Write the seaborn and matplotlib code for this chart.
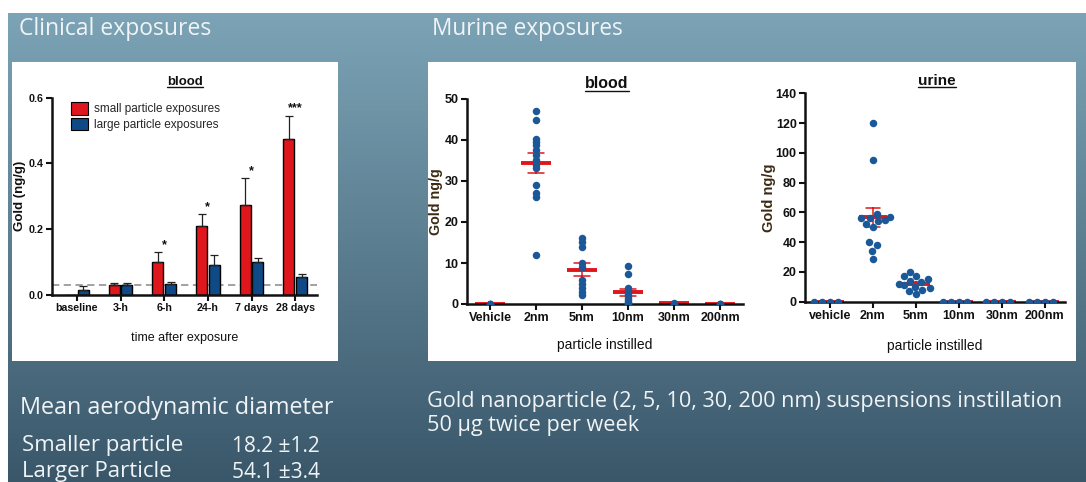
import numpy as np
import pandas as pd
import matplotlib
matplotlib.use("Agg")
import matplotlib.pyplot as plt
import seaborn as sns
from matplotlib.patches import Rectangle, Patch
from matplotlib.lines import Line2D

# ---------------- data ----------------
time_points = ["baseline", "3-h", "6-h", "24-h", "7 days", "28 days"]
small_mean = [0.0, 0.030, 0.100, 0.210, 0.275, 0.475]
small_sem = [0.0, 0.008, 0.030, 0.035, 0.080, 0.070]
large_mean = [0.015, 0.030, 0.033, 0.090, 0.100, 0.055]
large_sem = [0.012, 0.008, 0.007, 0.033, 0.013, 0.010]
sig_marks = ["", "", "*", "*", "*", "***"]
detection_limit = 0.03
exposure_labels = ["small particle exposures", "large particle exposures"]

blood_groups = ["Vehicle", "2nm", "5nm", "10nm", "30nm", "200nm"]
blood_vehicle = [0.0, 0.0, 0.1]
blood_2nm = [47.1, 44.9, 40.2, 39.6, 38.8, 37.6, 36.3, 35.1, 33.9, 33.2, 29.0, 27.1, 26.2, 12.0]
blood_5nm = [16.0, 15.2, 14.0, 9.9, 9.1, 5.9, 5.0, 3.8, 3.0, 2.2]
blood_10nm = [9.2, 7.4, 3.8, 3.2, 2.5, 2.0, 1.5, 1.0, 0.5, 0.3, 0.1]
blood_30nm = [0.3, 0.1, 0.0]
blood_200nm = [0.0, 0.0, 0.1]

urine_groups = ["vehicle", "2nm", "5nm", "10nm", "30nm", "200nm"]
urine_vehicle = [0.0, 0.0, 0.0, 0.0]
urine_2nm = [120, 95, 59, 57, 56, 56, 55, 54, 52, 50, 40, 38, 34, 29]
urine_5nm = [20, 17, 17, 15, 14, 13, 12, 11, 10, 9, 8, 7, 5]
urine_10nm = [0.0, 0.0, 0.0, 0.0]
urine_30nm = [0.0, 0.0, 0.0, 0.0]
urine_200nm = [0.0, 0.0, 0.0, 0.0]

# ---------------- style ----------------
sns.set_theme(style="ticks")
plt.rcParams["font.family"] = ["Liberation Sans", "DejaVu Sans"]
RED = "#e0161d"
NAVY = "#0f4a87"
DOT = "#1b5898"
SLIDE_FONT = ["Open Sans", "DejaVu Sans"]
TXT = "#f0f4f6"

W, H = 1086, 482
fig = plt.figure(figsize=(W / 100, H / 100), dpi=100)

# background axes in pixel coordinates
bg = fig.add_axes([0, 0, 1, 1])
bg.set_xlim(0, W)
bg.set_ylim(H, 0)
bg.axis("off")
top_c = np.array([0x7c, 0xa4, 0xb6]) / 255
bot_c = np.array([0x3a, 0x57, 0x6a]) / 255
t = np.linspace(0, 1, 256)[:, None, None]
grad = top_c[None, None, :] * (1 - t) + bot_c[None, None, :] * t
bg.imshow(grad, extent=(8, W, H, 13), aspect="auto", zorder=0)
bg.add_patch(Rectangle((12, 62), 326, 299, facecolor="white", edgecolor="none", zorder=1))
bg.add_patch(Rectangle((428, 62), 648, 299, facecolor="white", edgecolor="none", zorder=1))

bg.text(19, 29, "Clinical exposures", color=TXT, fontsize=16.5, family=SLIDE_FONT, va="center", ha="left")
bg.text(432, 29, "Murine exposures", color=TXT, fontsize=16.3, family=SLIDE_FONT, va="center", ha="left")
bg.text(20, 408, "Mean aerodynamic diameter", color=TXT, fontsize=16.8, family=SLIDE_FONT, va="center")
bg.text(22, 446, "Smaller particle", color=TXT, fontsize=16, family=SLIDE_FONT, va="center")
bg.text(232, 446, "18.2 \u00b11.2", color=TXT, fontsize=15, family=SLIDE_FONT, va="center")
bg.text(22, 472, "Larger Particle", color=TXT, fontsize=16, family=SLIDE_FONT, va="center")
bg.text(232, 472, "54.1 \u00b13.4", color=TXT, fontsize=15, family=SLIDE_FONT, va="center")
bg.text(427, 401, "Gold nanoparticle (2, 5, 10, 30, 200 nm) suspensions instillation",
        color=TXT, fontsize=15.6, family=SLIDE_FONT, va="center")
bg.text(427, 426, "50 \u00b5g twice per week", color=TXT, fontsize=15.6, family=SLIDE_FONT, va="center")


def px_axes(x0, x1, y_top, y_bot):
    return fig.add_axes([x0 / W, 1 - y_bot / H, (x1 - x0) / W, (y_bot - y_top) / H])


def style_axes(ax, fs=7.5):
    sns.despine(ax=ax)
    for s in ("left", "bottom"):
        ax.spines[s].set_linewidth(1.8)
        ax.spines[s].set_color("#111111")
    ax.tick_params(axis="both", length=4, width=1.5, color="#111111", labelsize=fs,
                   pad=2, labelcolor="#111111")
    for lab in ax.get_xticklabels() + ax.get_yticklabels():
        lab.set_fontweight("bold")
    ax.set_facecolor("none")


underline_titles = []

# ---------------- clinical bar chart ----------------
ax1 = px_axes(52, 317, 97.7, 295)
df_clin = pd.DataFrame({
    "time": time_points * 2,
    "exposure": [exposure_labels[0]] * len(time_points) + [exposure_labels[1]] * len(time_points),
    "gold": small_mean + large_mean,
})
sns.barplot(data=df_clin, x="time", y="gold", hue="exposure", order=time_points,
            hue_order=exposure_labels, palette=[RED, NAVY], saturation=1, width=0.58, gap=0.12,
            edgecolor="black", linewidth=1.0, errorbar=None, legend=False, ax=ax1)
for cont, sems in zip(ax1.containers, [small_sem, large_sem]):
    xs, ys, es = [], [], []
    for bar, e in zip(cont, sems):
        if e > 0:
            xs.append(bar.get_x() + bar.get_width() / 2)
            ys.append(bar.get_height())
            es.append(e)
    ax1.errorbar(xs, ys, yerr=[np.zeros(len(es)), es], fmt="none", ecolor="#222222",
                 elinewidth=0.9, capsize=3, capthick=0.9, zorder=3)
ax1.axhline(detection_limit, color="#9a9a9a", linestyle=(0, (4, 2.5)), linewidth=1.3, zorder=0.5)
for i, (m, s, mark) in enumerate(zip(small_mean, small_sem, sig_marks)):
    if mark:
        ax1.text(i, m + s + 0.022, mark, ha="center", va="center", fontsize=9, fontweight="bold",
                 color="#111111")
ax1.set_xlim(-0.57, 5.5)
ax1.set_ylim(0, 0.6)
ax1.set_yticks([0.0, 0.2, 0.4, 0.6])
ax1.set_yticklabels(["0.0", "0.2", "0.4", "0.6"])
ax1.set_xlabel("time after exposure", fontsize=9, color="#111111")
ax1.set_ylabel("Gold (ng/g)", fontsize=9.5, fontweight="bold", color="#111111")
ax1.xaxis.set_label_coords(0.5, -0.185)
ax1.yaxis.set_label_coords(-0.097, 0.5)
style_axes(ax1, fs=7.7)
ax1.legend(handles=[Patch(facecolor=RED, edgecolor="black", linewidth=0.8),
                    Patch(facecolor=NAVY, edgecolor="black", linewidth=0.8)],
           labels=exposure_labels, loc="upper left", bbox_to_anchor=(0.03, 1.03), frameon=False,
           fontsize=8.5, handlelength=1.5, handleheight=1.2, handletextpad=0.5, labelspacing=0.2)
t1 = fig.text(185 / W, 1 - 82 / H, "blood", ha="center", va="center", fontsize=9.5, fontweight="bold",
              color="#111111")
underline_titles.append(t1)

# ---------------- murine blood ----------------
ax2 = px_axes(467, 743, 99, 304)
blood_vals = [blood_vehicle, blood_2nm, blood_5nm, blood_10nm, blood_30nm, blood_200nm]
df_blood = pd.DataFrame({
    "group": [g for g, v in zip(blood_groups, blood_vals) for _ in v],
    "gold": [x for v in blood_vals for x in v],
})
sns.stripplot(data=df_blood, x="group", y="gold", order=blood_groups, jitter=False, color=DOT,
              size=5.4, linewidth=0, ax=ax2)
sns.pointplot(data=df_blood, x="group", y="gold", order=blood_groups, errorbar="se",
              markers="_", linestyle="none", color=RED, capsize=0.36, markersize=22,
              markeredgewidth=2.8, err_kws={"linewidth": 1.1}, ax=ax2)
ax2.set_xlim(-0.5, 5.5)
ax2.set_ylim(0, 50)
ax2.set_yticks([0, 10, 20, 30, 40, 50])
ax2.set_xlabel("particle instilled", fontsize=10, color="#111111")
ax2.set_ylabel("Gold ng/g", fontsize=10.3, fontweight="bold", color="#3b2a14")
ax2.xaxis.set_label_coords(0.5, -0.165)
ax2.yaxis.set_label_coords(-0.088, 0.5)
style_axes(ax2, fs=9)
t2 = fig.text(607 / W, 1 - 84 / H, "blood", ha="center", va="center", fontsize=11.5, fontweight="bold",
              color="#111111")
underline_titles.append(t2)

# ---------------- murine urine ----------------
ax3 = px_axes(805, 1065, 93.3, 301.7)
urine_vals = [urine_vehicle, urine_2nm, urine_5nm, urine_10nm, urine_30nm, urine_200nm]
df_urine = pd.DataFrame({
    "group": [g for g, v in zip(urine_groups, urine_vals) for _ in v],
    "gold": [float(x) for v in urine_vals for x in v],
})
sns.swarmplot(data=df_urine, x="group", y="gold", order=urine_groups, color=DOT, size=5.4,
              linewidth=0, ax=ax3, warn_thresh=1)
sns.pointplot(data=df_urine, x="group", y="gold", order=urine_groups, errorbar="se",
              markers="_", linestyle="none", color=RED, capsize=0.33, markersize=20,
              markeredgewidth=2.8, err_kws={"linewidth": 1.1}, ax=ax3)
ax3.set_xlim(-0.58, 5.47)
ax3.set_ylim(0, 140)
ax3.set_yticks(np.arange(0, 141, 20))
ax3.set_xlabel("particle instilled", fontsize=10, color="#111111")
ax3.set_ylabel("Gold ng/g", fontsize=10.5, fontweight="bold", color="#3b2a14")
ax3.xaxis.set_label_coords(0.5, -0.18)
ax3.yaxis.set_label_coords(-0.11, 0.5)
style_axes(ax3, fs=9)
t3 = fig.text(937 / W, 1 - 81 / H, "urine", ha="center", va="center", fontsize=11, fontweight="bold",
              color="#111111")
underline_titles.append(t3)

# underline the panel titles
fig.canvas.draw()
renderer = fig.canvas.get_renderer()
for tt in underline_titles:
    bb = tt.get_window_extent(renderer).transformed(fig.transFigure.inverted())
    fig.add_artist(Line2D([bb.x0, bb.x1], [bb.y0 + 0.002, bb.y0 + 0.002], transform=fig.transFigure,
                          color="#111111", linewidth=1.0))

fig.savefig("out.png", dpi=100)
